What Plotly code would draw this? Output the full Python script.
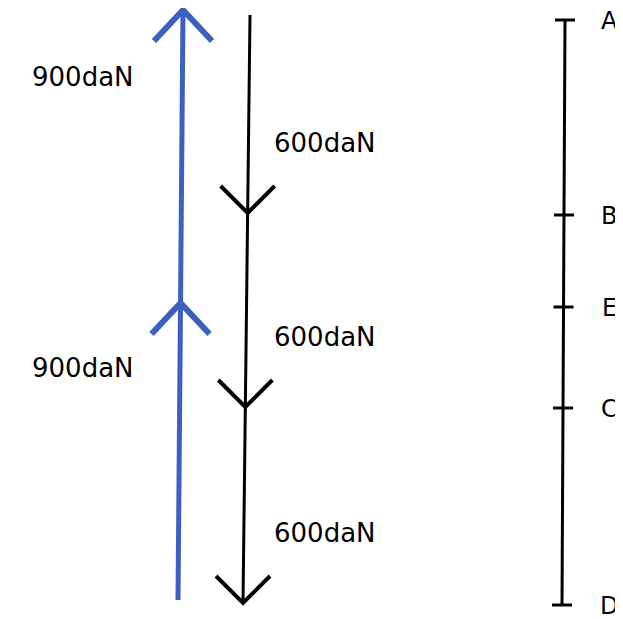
import plotly.graph_objects as go

# --- DATA ---
# node scale on the right (name, y position in drawing units)
node_names = ["A", "B", "E", "C", "D"]
node_y = [20, 215, 307, 408, 605]

# blue force line (upward, 900 daN): line ends and arrow tips
blue_line_x = [178, 183]
blue_line_y = [600, 10]
blue_tips_y = [10, 303]
blue_labels = ["900daN", "900daN"]
blue_label_y = [77, 368]

# black force line (downward, 600 daN): line ends and arrow tips
black_line_x = [250, 243]
black_line_y = [15, 603]
black_tips_y = [213, 407, 603]
black_labels = ["600daN", "600daN", "600daN"]
black_label_y = [143, 337, 533]

# scale line ends
scale_x = [565, 562]
scale_y = [20, 605]

BLUE = '#3d5fbf'
FONT = "DejaVu Sans"
PAGE_OFFSET = 8  # default body margin of the html page


def x_at(xs, ys, y):
    # linear position along a slightly slanted hand-drawn line
    t = (y - ys[0]) / (ys[1] - ys[0])
    return xs[0] + t * (xs[1] - xs[0])


def chevron(xs, ys, tip_y, up, dx, dy):
    tx = x_at(xs, ys, tip_y)
    s = 1 if up else -1
    return [tx - dx, tx, tx + dx], [tip_y + s * dy, tip_y, tip_y + s * dy]


fig = go.Figure()

# --- BLUE ARROWS ---
fig.add_trace(go.Scatter(x=blue_line_x, y=blue_line_y, mode='lines',
                         line=dict(color=BLUE, width=5), showlegend=False, hoverinfo='skip'))
for ty in blue_tips_y:
    cx, cy = chevron(blue_line_x, blue_line_y, ty, True, 29, 31)
    fig.add_trace(go.Scatter(x=cx, y=cy, mode='lines',
                             line=dict(color=BLUE, width=6), showlegend=False, hoverinfo='skip'))
for lbl, ly in zip(blue_labels, blue_label_y):
    fig.add_annotation(x=83, y=ly, text=lbl, showarrow=False,
                       font=dict(family=FONT, size=26, color='black'))

# --- BLACK ARROWS ---
fig.add_trace(go.Scatter(x=black_line_x, y=black_line_y, mode='lines',
                         line=dict(color='black', width=3), showlegend=False, hoverinfo='skip'))
for ty in black_tips_y:
    cx, cy = chevron(black_line_x, black_line_y, ty, False, 27, 27)
    fig.add_trace(go.Scatter(x=cx, y=cy, mode='lines',
                             line=dict(color='black', width=4), showlegend=False, hoverinfo='skip'))
for lbl, ly in zip(black_labels, black_label_y):
    fig.add_annotation(x=325, y=ly, text=lbl, showarrow=False,
                       font=dict(family=FONT, size=26, color='black'))

# --- SCALE WITH NODES ---
fig.add_trace(go.Scatter(x=scale_x, y=scale_y, mode='lines',
                         line=dict(color='black', width=3), showlegend=False, hoverinfo='skip'))
for name, ny in zip(node_names, node_y):
    nx = x_at(scale_x, scale_y, ny)
    fig.add_trace(go.Scatter(x=[nx - 10, nx + 10], y=[ny, ny], mode='lines',
                             line=dict(color='black', width=3), showlegend=False, hoverinfo='skip'))
    fig.add_annotation(x=609, y=ny + 1, text=name, showarrow=False,
                       font=dict(family=FONT, size=24, color='black'))

# --- STYLING ---
fig.update_layout(
    width=623 - PAGE_OFFSET, height=619 - PAGE_OFFSET,
    margin=dict(t=0, l=0, r=0, b=0),
    paper_bgcolor='white', plot_bgcolor='white',
    xaxis=dict(range=[PAGE_OFFSET, 623], visible=False, fixedrange=True),
    yaxis=dict(range=[619, PAGE_OFFSET], visible=False, fixedrange=True),
)

fig.write_html("out.html")
